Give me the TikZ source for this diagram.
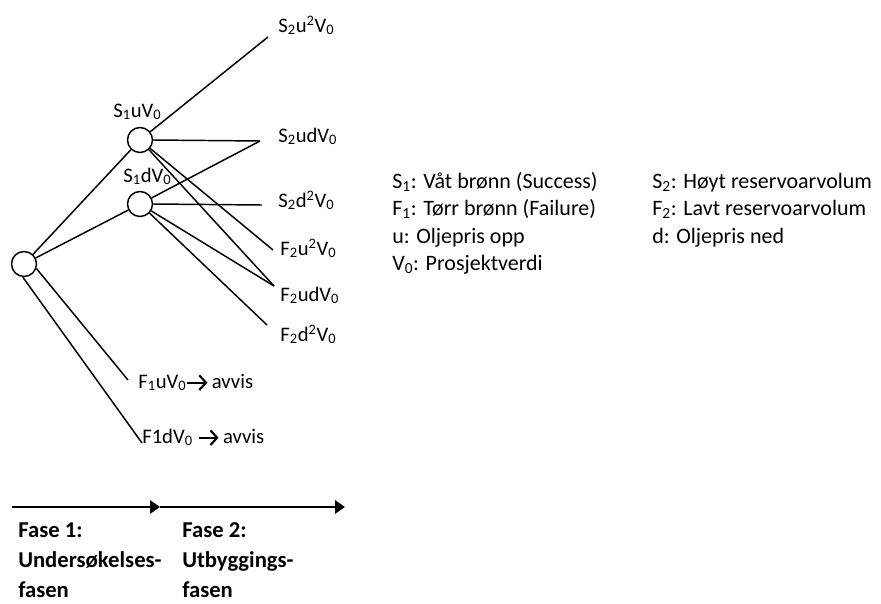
\documentclass[tikz,border=0pt]{standalone}
\usepackage{fontspec}
\setmainfont{Carlito}
\usetikzlibrary{arrows.meta}
\newcommand{\sub}[1]{\textsubscript{#1}}
\newcommand{\sups}[1]{\textsuperscript{#1}}
% bold chevron arrow used inside the "avvis" labels
\newcommand{\rarr}{\tikz[baseline=0pt]\draw[line width=1.6pt,-{Straight Barb[length=5pt,width=11pt,line width=1.6pt]}] (0pt,4pt) -- (15pt,4pt);}
\begin{document}
\begin{tikzpicture}[x=0.75pt,y=-0.75pt,
  every node/.style={font=\fontsize{15.5}{18}\selectfont},
  chance/.style={circle,draw,line width=1.1pt,minimum size=18.75pt,inner sep=0pt},
  lbl/.style={anchor=base west,inner sep=0pt},
  keytxt/.style={anchor=base west,inner sep=0pt,font=\fontsize{16.5}{20}\selectfont},
  branch/.style={line width=1.1pt},
  phase/.style={line width=1.6pt,-{Triangle[length=7.5pt,width=10pt]}},
  phasetxt/.style={anchor=base west,inner sep=0pt,font=\fontsize{17}{20}\selectfont\bfseries}]
\useasboundingbox (0,0) rectangle (881,603);

% decision nodes
\node[chance] (root) at (24,264) {};
\node[chance] (s1u) at (140,140) {};
\node[chance] (s1d) at (140,204) {};

% node labels
\node[lbl] (ls1u) at (113,117) {S\sub{1}uV\sub{0}};
\node[lbl] (ls1d) at (123,182) {S\sub{1}dV\sub{0}};

% outcome labels
\node[lbl] (suu) at (278,32) {S\sub{2}u\sups{2}V\sub{0}};
\node[lbl] (sud) at (278,142) {S\sub{2}udV\sub{0}};
\node[lbl] (sdd) at (278,207) {S\sub{2}d\sups{2}V\sub{0}};
\node[lbl] (fuu) at (280,255) {F\sub{2}u\sups{2}V\sub{0}};
\node[lbl] (fud) at (280,301) {F\sub{2}udV\sub{0}};
\node[lbl] (fdd) at (280,341) {F\sub{2}d\sups{2}V\sub{0}};
\node[lbl] (f1u) at (138,388) {F\sub{1}uV\sub{0}\rarr\,avvis};
\node[lbl] (f1d) at (142,443) {F1dV\sub{0} \rarr\,avvis};

% branch end points
\coordinate (euu) at (268,37);
\coordinate (eud) at (260,141);
\coordinate (edd) at (262,205);
\coordinate (efuu) at (273,250);
\coordinate (efud) at (274,286);
\coordinate (efdd) at (267,325);
\coordinate (ef1u) at (128,380);
\coordinate (ef1d) at (142,443);

% phase one branches
\draw[branch] (root) -- (s1u);
\draw[branch] (root) -- (s1d);
\draw[branch] (root.-20) -- (ef1u);
\draw[branch] (root.-95) -- (ef1d);

% phase two branches
\draw[branch] (s1u) -- (euu);
\draw[branch] (s1u.east) -- (eud);
\draw[branch] (s1u) -- (efuu);
\draw[branch] (s1u) -- (efud);
\draw[branch] (s1d) -- (eud);
\draw[branch] (s1d.east) -- (edd);
\draw[branch] (s1d) -- (efud);
\draw[branch] (s1d) -- (efdd);

% legend
\node[keytxt] (k1) at (392,188) {S\sub{1}: Våt brønn (Success)};
\node[keytxt] (k2) at (392,215.5) {F\sub{1}: Tørr brønn (Failure)};
\node[keytxt] (k3) at (392,243) {u: Oljepris opp};
\node[keytxt] (k4) at (392,270.5) {V\sub{0}: Prosjektverdi};
\node[keytxt] (k5) at (652,188) {S\sub{2}: Høyt reservoarvolum};
\node[keytxt] (k6) at (652,215.5) {F\sub{2}: Lavt reservoarvolum};
\node[keytxt] (k7) at (652,243) {d: Oljepris ned};

% time axis
\coordinate (t0) at (12,507);
\coordinate (t1) at (160,507);
\coordinate (t2) at (345,507);
\draw[phase] (t0) -- (t1);
\draw[phase] (t1) -- (t2);

\node[phasetxt] (p1a) at (18,537) {Fase 1:};
\node[phasetxt] (p1b) at (18,567) {Undersøkelses-};
\node[phasetxt] (p1c) at (18,597) {fasen};
\node[phasetxt] (p2a) at (182,537) {Fase 2:};
\node[phasetxt] (p2b) at (182,567) {Utbyggings-};
\node[phasetxt] (p2c) at (182,597) {fasen};
\end{tikzpicture}
\end{document}
